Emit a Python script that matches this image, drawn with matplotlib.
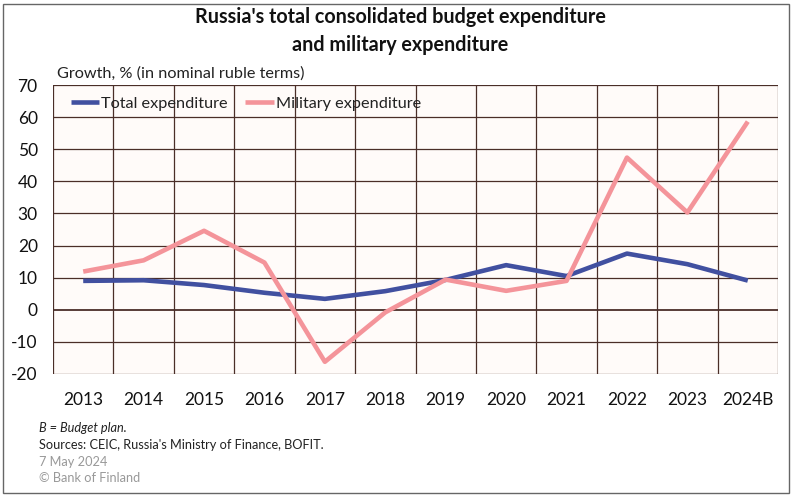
import matplotlib
matplotlib.use("Agg")
import matplotlib.pyplot as plt
from matplotlib.patches import Rectangle

years = ["2013", "2014", "2015", "2016", "2017", "2018", "2019", "2020", "2021", "2022", "2023", "2024B"]
total_exp = [9.0, 9.2, 7.7, 5.3, 3.4, 5.8, 9.3, 13.9, 10.5, 17.5, 14.2, 9.1]
military_exp = [11.9, 15.4, 24.6, 14.7, -16.2, -0.8, 9.4, 5.9, 9.0, 47.4, 30.3, 58.6]
yticks = [70, 60, 50, 40, 30, 20, 10, 0, -10, -20]

plt.rcParams['font.family'] = ['Lato', 'DejaVu Sans']

W, H = 797, 497
fig = plt.figure(figsize=(W / 100, H / 100), dpi=100)
fig.patch.set_facecolor('white')

left, right, top, bottom = 53, 778, 85, 374
ax = fig.add_axes([left / W, 1 - bottom / H, (right - left) / W, (bottom - top) / H])
ax.set_facecolor('#FFFBF9')

n = len(years)
x = list(range(n))
ax.set_xlim(-0.5, n - 0.5)
ax.set_ylim(-20, 70)

gridc = '#4A2E28'
for yv in yticks:
    ax.axhline(yv, color=gridc, lw=0.9 if yv != 0 else 1.3, zorder=1)
for i in range(n + 1):
    ax.axvline(i - 0.5, color=gridc, lw=0.9, zorder=1)

ax.plot(x, total_exp, color='#4150A0', lw=3.3, label='Total expenditure', zorder=3, solid_capstyle='butt')
ax.plot(x, military_exp, color='#F4949A', lw=3.3, label='Military expenditure', zorder=3, solid_capstyle='butt')

ax.set_yticks(yticks)
ax.set_yticklabels([str(v) for v in yticks], fontsize=12.5, color='#111111')
ax.set_xticks(x)
ax.set_xticklabels(years, fontsize=12.5, color='#111111')
ax.tick_params(axis='both', length=0)
ax.tick_params(axis='y', pad=11)
ax.tick_params(axis='x', pad=13)
for s in ax.spines.values():
    s.set_visible(False)

leg = ax.legend(loc='upper left', bbox_to_anchor=(0.009, 1.0), ncol=2, frameon=False,
                fontsize=11.7, handlelength=1.75, handletextpad=0.1, columnspacing=1.1,
                borderaxespad=0.3)
for t in leg.get_texts():
    t.set_color('#222222')

fig.text(400 / W, 1 - 31 / H, "Russia's total consolidated budget expenditure\nand military expenditure",
         ha='center', va='center', fontsize=14.2, fontweight='bold', linespacing=1.45, color='#111111')
fig.text(57 / W, 1 - 74 / H, "Growth, % (in nominal ruble terms)", ha='left', va='center',
         fontsize=11.7, color='#222222')

fs = 9.2
fig.text(39 / W, 1 - 428 / H, "B = Budget plan.", ha='left', va='center', fontsize=fs,
         style='italic', color='#222222')
fig.text(39 / W, 1 - 445 / H, "Sources: CEIC, Russia's Ministry of Finance, BOFIT.", ha='left',
         va='center', fontsize=fs, color='#222222')
fig.text(39 / W, 1 - 462 / H, "7 May 2024", ha='left', va='center', fontsize=fs, color='#999999')
fig.text(39 / W, 1 - 478 / H, "\u00a9 Bank of Finland", ha='left', va='center', fontsize=fs, color='#999999')

fig.patches.append(Rectangle((3 / W, 4 / H), 786 / W, 489 / H, transform=fig.transFigure,
                             fill=False, edgecolor='#666666', lw=1.0))

fig.savefig('out.png', dpi=100)
